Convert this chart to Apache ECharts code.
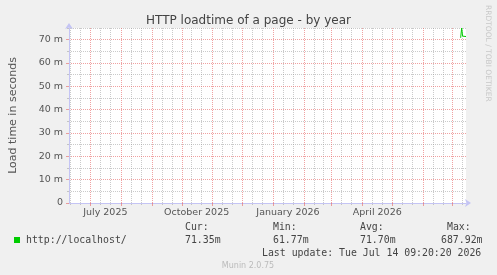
<!DOCTYPE html>
<html>
<head>
<meta charset="utf-8">
<script src="https://cdn.jsdelivr.net/npm/echarts@6/dist/echarts.min.js"></script>
<style>
  html, body { margin: 0; padding: 0; background: #f0f0f0; }
  #main { width: 497px; height: 275px; }
</style>
</head>
<body>
<div id="main"></div>
<script>
// time window: munin "by year" = last 400 days
var endTime = Date.UTC(2026, 6, 14, 9, 20, 20);
var startTime = endTime - 400 * 86400000;

// x labels (centred mid-month, like rrdtool)
var monthLabels = ['July 2025', 'October 2025', 'January 2026', 'April 2026'];
var monthLabelDates = ['2025-07-16', '2025-10-16', '2026-01-16', '2026-04-16'];

// y ticks (milliseconds)
var yMajor = [0, 10, 20, 30, 40, 50, 60, 70];
var yMinor = [5, 15, 25, 35, 45, 55, 65, 75];

// series: http://localhost/ load time (ms), daily averages
var loadDates = ['2026-07-09', '2026-07-10', '2026-07-11', '2026-07-12', '2026-07-13', '2026-07-14T09:20:20Z'];
var loadValues = [70.8, 75.0, 71.5, 71.4, 71.3, 71.35];

// legend figures
var statNames = ['Cur:', 'Min:', 'Avg:', 'Max:'];
var statValues = ['71.35m', '61.77m', '71.70m', '687.92m'];

var seriesData = loadDates.map(function (d, i) {
    return [Date.parse(d), loadValues[i]];
});

// grid lines: month starts (red), 11th and 21st (grey)
var monthStarts = [];
var minorLines = [];
for (var y = 2025, m = 5; !(y === 2026 && m > 6); m++) {
    if (m > 11) { m = 0; y++; }
    [1, 11, 21].forEach(function (d) {
        var t = Date.UTC(y, m, d);
        if (t <= startTime || t >= endTime) return;
        if (d === 1) monthStarts.push(t); else minorLines.push(t);
    });
}

var red = 'rgba(230,100,100,0.6)';
var grey = 'rgba(150,150,150,0.5)';
var axisColor = '#c4c4f4';
var mono = '"DejaVu Sans Mono", monospace';
var monoFont = '9.85px ' + mono;

var myChart = echarts.init(document.getElementById('main'), null, { renderer: 'canvas' });

var graphics = [
    { type: 'rect', shape: { x: 14, y: 237, width: 6, height: 6 }, style: { fill: '#00cc00' } },
    { type: 'text', x: 26, y: 240, style: { text: 'http://localhost/', font: monoFont, fill: '#444', verticalAlign: 'middle' } },
    { type: 'text', x: 262, y: 253, style: { text: 'Last update: Tue Jul 14 09:20:20 2026', font: monoFont, fill: '#444', verticalAlign: 'middle' } },
    { type: 'text', x: 248, y: 266, style: { text: 'Munin 2.0.75', font: '8px "DejaVu Sans"', fill: '#bbb', align: 'center', verticalAlign: 'middle' } },
    { type: 'text', x: 488, y: 5, rotation: -Math.PI / 2, style: { text: 'RRDTOOL / TOBI OETIKER', font: '7.5px "DejaVu Sans"', fill: '#c8c8c8', align: 'left', verticalAlign: 'middle' } }
];
var statX = [185, 273, 360, 447];
var valueX = [185, 273, 360, 441];
statNames.forEach(function (s, i) {
    graphics.push({ type: 'text', x: statX[i], y: 227, style: { text: s, font: monoFont, fill: '#444', verticalAlign: 'middle' } });
    graphics.push({ type: 'text', x: valueX[i], y: 240, style: { text: statValues[i], font: monoFont, fill: '#444', verticalAlign: 'middle' } });
});

var labelTimes = monthLabelDates.map(function (d) { return Date.parse(d); });

var option = {
    animation: false,
    backgroundColor: '#f0f0f0',
    textStyle: { fontFamily: '"DejaVu Sans", sans-serif' },
    title: {
        text: 'HTTP loadtime of a page - by year',
        left: 'center',
        top: 10,
        textStyle: { fontSize: 12, fontWeight: 'normal', color: '#444', fontFamily: '"DejaVu Sans", sans-serif' }
    },
    grid: {
        left: 66, right: 31, top: 28, bottom: 72,
        show: true, backgroundColor: '#ffffff', borderWidth: 0
    },
    xAxis: [{
        type: 'value',
        min: startTime,
        max: endTime,
        z: 2,
        axisLine: { show: true, lineStyle: { color: axisColor }, symbol: ['none', 'arrow'], symbolSize: [6, 6], symbolOffset: [0, 5] },
        axisTick: { show: true, length: 3, customValues: monthStarts, lineStyle: { color: red } },
        axisLabel: {
            show: true,
            customValues: labelTimes,
            formatter: function (v) {
                var i = labelTimes.indexOf(v);
                return i >= 0 ? monthLabels[i] : '';
            },
            fontSize: 9.5, color: '#555', margin: 5
        },
        splitLine: { show: true, lineStyle: { color: red, type: [1, 1] } }
    }, {
        type: 'value',
        min: startTime,
        max: endTime,
        position: 'bottom',
        z: 1,
        axisLine: { show: false },
        axisTick: { show: true, length: 2, customValues: minorLines, lineStyle: { color: grey } },
        axisLabel: { show: false },
        splitLine: { show: true, lineStyle: { color: grey, type: [1, 1] } }
    }],
    yAxis: [{
        type: 'value',
        min: 0,
        max: 75,
        z: 2,
        name: 'Load time in seconds',
        nameLocation: 'middle',
        nameGap: 50,
        nameTextStyle: { fontSize: 11, color: '#555' },
        axisLine: { show: true, lineStyle: { color: axisColor }, symbol: ['none', 'arrow'], symbolSize: [6, 6], symbolOffset: [0, 5] },
        axisTick: { show: true, length: 3, customValues: yMajor, lineStyle: { color: red } },
        axisLabel: {
            customValues: yMajor,
            formatter: function (v) { return v === 0 ? '0' : v + ' m'; },
            fontSize: 9.5, color: '#555', margin: 6
        },
        splitLine: { show: true, lineStyle: { color: red, type: [1, 1] } }
    }, {
        type: 'value',
        min: 0,
        max: 75,
        position: 'left',
        z: 1,
        axisLine: { show: false },
        axisTick: { show: true, length: 2, customValues: yMinor, lineStyle: { color: grey } },
        axisLabel: { show: false },
        splitLine: { show: true, lineStyle: { color: grey, type: [1, 1] } }
    }],
    series: [{
        type: 'line',
        name: 'http://localhost/',
        data: seriesData,
        z: 3,
        showSymbol: false,
        clip: true,
        lineStyle: { color: '#00cc00', width: 1 },
        itemStyle: { color: '#00cc00' }
    }],
    graphic: graphics
};
myChart.setOption(option);
</script>
</body>
</html>
